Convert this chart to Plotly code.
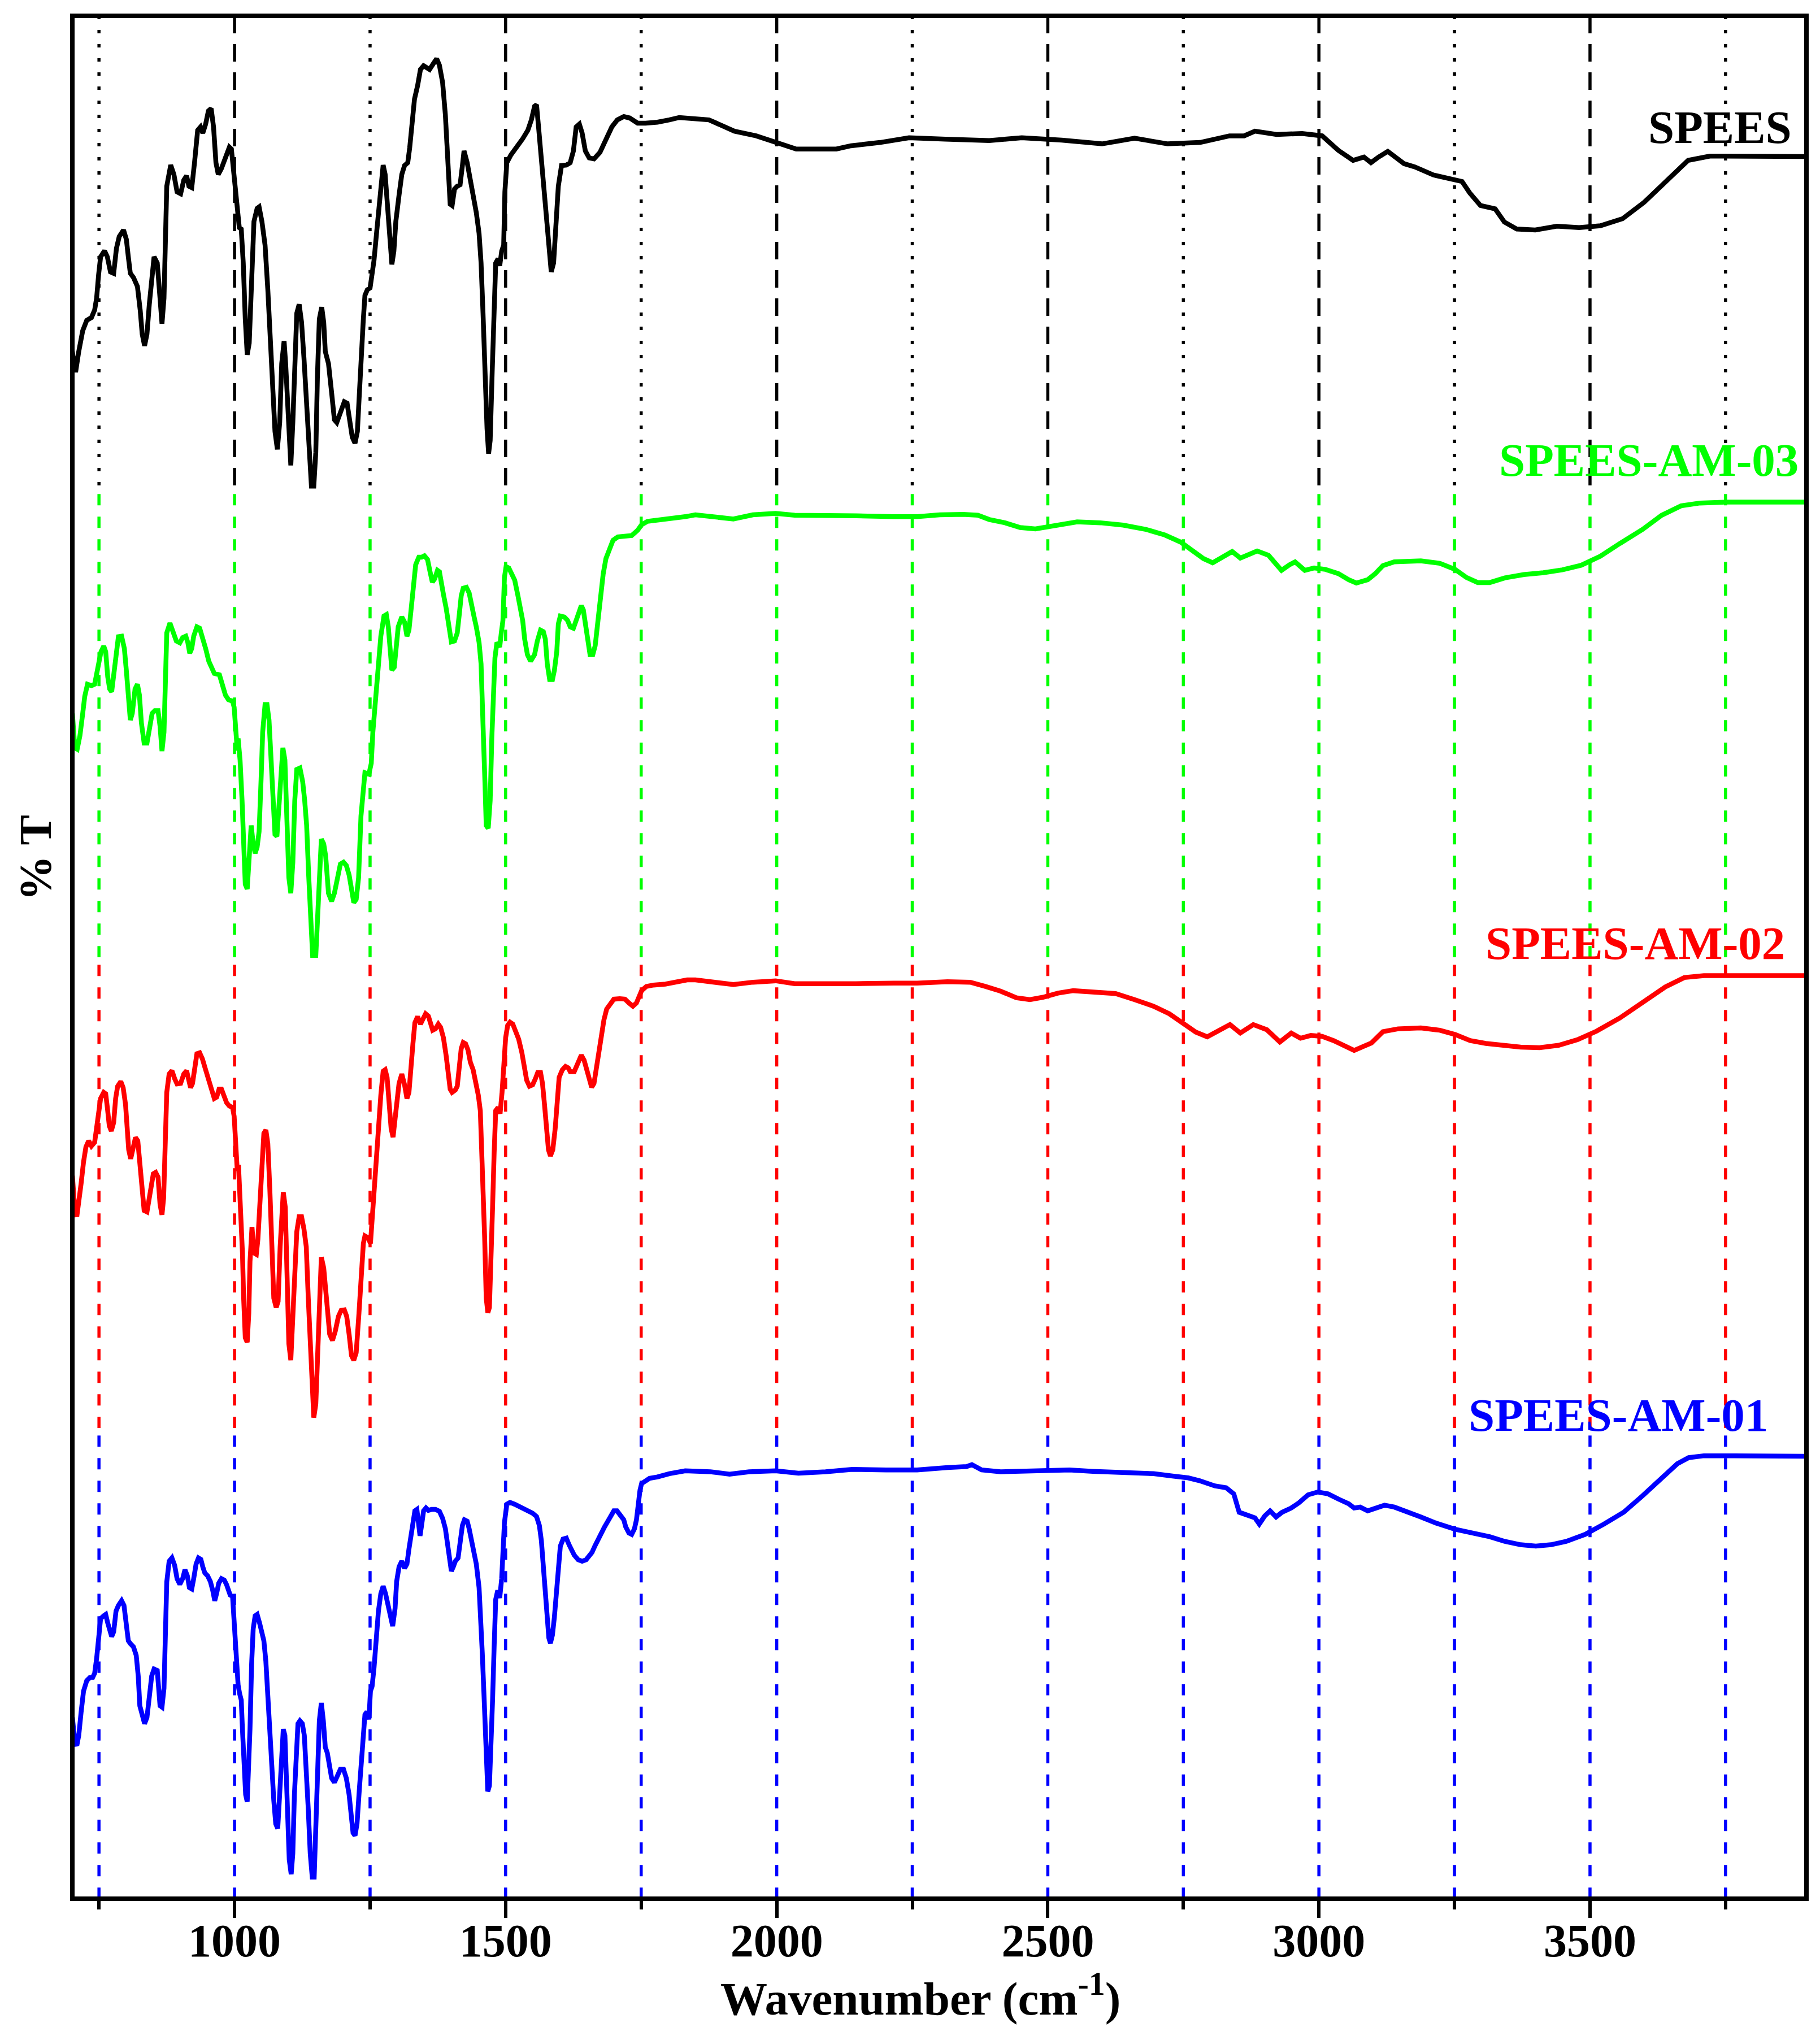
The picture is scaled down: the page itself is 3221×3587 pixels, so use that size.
import plotly.graph_objects as go

# ---------------- data ----------------
# wavenumber (cm-1) and %T (each spectrum on its own 0-100 scale, stacked with offsets)
wn_spees = [700, 706.9, 712.7, 720, 727.4, 736.1, 742, 745.6, 749.3, 753, 760.2, 765.4, 771.2, 777.1, 782.2, 787.3, 795.3, 800.5, 804.1, 807.8,
            813.6, 820.9, 826, 829.7, 834.1, 838.5, 842.8, 848, 851.6, 857.5, 862.6, 866.2, 869.9, 872.1, 875, 882.3, 888.2, 894, 900.6, 906.4,
            911.6, 915.9, 921.1, 926.2, 932, 937.2, 941.5, 946.7, 951.8, 956.9, 961.3, 965.7, 970, 975.9, 983.2, 990.5, 994.2, 997.8, 1001.5, 1005.1,
            1008.8, 1012.4, 1016.1, 1019.8, 1023.4, 1027.1, 1030.7, 1035.8, 1041.7, 1045.3, 1050.5, 1056.3, 1061.4, 1066.5, 1069.5, 1074.6, 1079, 1083.3, 1087, 1091.4,
            1094.3, 1098.7, 1103.8, 1107.5, 1111.1, 1114.8, 1119.2, 1123.6, 1128, 1133.1, 1138.2, 1141.8, 1146.2, 1149.9, 1152.8, 1156.4, 1160.8, 1164.5, 1167.4, 1173.3,
            1179.1, 1184.2, 1188.6, 1195.2, 1202.5, 1207.6, 1212, 1217.1, 1222.2, 1226.6, 1230.3, 1233.9, 1237.6, 1240.5, 1244.9, 1250, 1253.7, 1257.3, 1262.4, 1268.3,
            1274.1, 1277.8, 1281.4, 1286.6, 1290.2, 1293.9, 1297.5, 1303.4, 1308.5, 1313.6, 1319.5, 1323.1, 1326.8, 1331.9, 1337.7, 1342.9, 1348.7, 1353.8, 1359.7, 1367,
            1372.8, 1377.9, 1383.8, 1388.9, 1394, 1397.7, 1401.3, 1405.7, 1410.8, 1416, 1420.3, 1423.3, 1429.1, 1434.2, 1440.1, 1445.9, 1451, 1454.7, 1458.3, 1462,
            1465.7, 1468.6, 1471.5, 1475.2, 1478.8, 1481.7, 1486.1, 1489.1, 1492.7, 1496.4, 1498.6, 1502.2, 1509.5, 1520.5, 1531.5, 1541, 1547.5, 1553.4, 1557, 1560.7,
            1566.5, 1571.6, 1576.8, 1581.2, 1584.1, 1588.5, 1593.6, 1597.2, 1603.1, 1611.9, 1619.1, 1625, 1630.1, 1636, 1641.1, 1647, 1654.2, 1663, 1674, 1684.9,
            1695.9, 1706, 1718, 1728.8, 1743.4, 1758, 1780, 1801.9, 1820.2,
            1875, 1895, 1922, 1962, 2000, 2036, 2110, 2137, 2191, 2244, 2311, 2392, 2452, 2526, 2600, 2660, 2721, 2781, 2835, 2862,
            2882, 2922, 2969, 3006, 3036, 3063, 3083, 3096, 3110, 3127, 3157, 3177, 3211, 3244, 3264, 3278, 3298, 3325, 3342, 3365,
            3399, 3439, 3480, 3519, 3560, 3600, 3640, 3681, 3721, 3788, 3900]
t_spees = [29.3, 24.3, 28.7, 33.1, 35.3, 35.9, 37.5, 40.0, 45.0, 48.8, 50.1, 48.8, 45.6, 45.3, 50.6, 53.1, 54.5, 52.5, 48.8, 45.3,
           44.4, 42.5, 37.5, 32.4, 29.9, 32.4, 38.7, 45.0, 48.8, 47.5, 38.7, 34.6, 40.0, 54.4, 63.8, 68.3, 66.3, 62.6, 62.2, 65.1,
           66.0, 63.8, 63.5, 68.8, 75.7, 76.4, 75.1, 77.0, 79.8, 80.3, 76.4, 68.8, 66.3, 67.6, 70.1, 72.1, 71.7, 66.9, 62.6, 57.5,
           55.0, 54.7, 47.5, 35.6, 28.0, 30.5, 43.7, 56.3, 59.1, 59.4, 56.3, 51.3, 41.8, 29.3, 19.9, 11.7, 7.9, 13.6, 26.1, 30.9,
           26.1, 13.6, 4.5, 13.6, 29.3, 36.8, 38.7, 34.9, 27.4, 16.7, 6.7, 0.1, 0.1, 7.3, 23.0, 35.6, 38.1, 34.9, 28.7, 26.1,
           19.9, 14.2, 13.6, 16.1, 18.0, 17.7, 14.2, 10.5, 9.2, 11.7, 19.9, 29.3, 35.6, 40.6, 41.8, 42.2, 45.0, 48.1, 54.4, 62.6,
           68.3, 66.3, 60.0, 51.3, 47.2, 50.0, 56.3, 61.9, 66.3, 68.2, 68.8, 72.0, 77.0, 82.3, 85.2, 88.6, 89.4, 88.9, 88.6, 89.9,
           90.9, 89.5, 85.8, 78.9, 66.9, 60.0, 59.7, 63.2, 63.8, 64.1, 68.2, 71.3, 68.8, 65.7, 62.6, 58.2, 53.8, 47.5, 36.8, 23.0,
           12.3, 7.0, 9.8, 24.3, 39.9, 47.5, 48.4, 46.9, 50.0, 51.3, 62.6, 68.8, 70.4, 72.0, 73.9, 75.7, 77.9, 80.8, 81.1, 76.4,
           68.8, 61.3, 54.4, 47.5, 45.6, 47.5, 57.5, 63.8, 68.2, 68.3, 68.8, 71.3, 76.4, 77.0, 75.1, 71.3, 69.8, 69.6, 71.0, 73.5,
           76.4, 77.9, 78.6, 78.3, 77.2, 77.2, 77.4, 77.9, 78.4,
           77.9, 76.9, 75.5, 74.5, 73.1, 71.7, 71.7, 72.4, 73.1, 74.1, 73.8, 73.5, 74.1, 73.6, 72.8, 74.0, 72.8, 73.1, 74.5, 74.5,
           75.5, 74.8, 75.0, 74.5, 71.4, 69.3, 70.0, 68.8, 70.0, 71.2, 68.6, 67.9, 66.2, 65.2, 64.8, 62.4, 59.7, 59.0, 56.2, 54.7,
           54.5, 55.3, 55.0, 55.4, 56.9, 60.4, 64.8, 69.3, 70.2, 70.2, 70.1]

wn_am03 = [701, 705.4, 709.8, 714.9, 720, 723.7, 728.8, 736.1, 742, 746.4, 749.3, 753.7, 758.8, 762.4, 766.1, 769.7, 773.4, 777.1, 781.4, 785.8,
           791.7, 796.8, 800.4, 804.1, 807.8, 811.4, 816.5, 820.9, 824.6, 828.2, 833.3, 838.5, 842.8, 848, 853.1, 858.9, 862.6, 866.2, 869.9, 872.1,
           875, 880.9, 886.7, 892.6, 899.1, 904.3, 910.1, 913.8, 917.4, 921.1, 924.7, 930.6, 935.7, 940.8, 946.7, 952.5, 957.6, 962.7, 972.2, 977.4,
           983.2, 989, 996.4, 999.3, 1001.5, 1005.1, 1006.6, 1010.2, 1013.9, 1016.1, 1019.8, 1023.4, 1027.1, 1030.7, 1034.4, 1038, 1041.7, 1045.3, 1049, 1051.9,
           1056.3, 1059.9, 1063.6, 1067.3, 1070.9, 1074.6, 1078.2, 1081.9, 1085.5, 1089.2, 1092.9, 1096.5, 1100.2, 1103.8, 1107.5, 1111.1, 1114.8, 1120.6, 1125.7, 1129.4,
           1133, 1136.7, 1140.4, 1144, 1149.9, 1153.5, 1157.2, 1160.1, 1164.5, 1168.1, 1173.3, 1179.1, 1184.2, 1189.3, 1195.2, 1201, 1206.2, 1211.3, 1215.7, 1220,
           1224.4, 1228.8, 1233.2, 1237.6, 1240.5, 1247.8, 1252.2, 1255.1, 1259.5, 1264.6, 1269.8, 1275.6, 1280, 1283.6, 1287.3, 1290.2, 1294.6, 1297.5, 1301.9, 1308.5,
           1313.6, 1318, 1321.7, 1325.3, 1329.7, 1334.1, 1339.9, 1345, 1350.2, 1356, 1360.4, 1364.8, 1369.2, 1374.3, 1377.9, 1382.3, 1385.3, 1390.4, 1394, 1397,
           1399.9, 1405.7, 1410.8, 1414.5, 1418.1, 1421.8, 1427.6, 1432.7, 1436.4, 1441.5, 1445.9, 1451, 1454.7, 1456.9, 1459.1, 1462, 1464.2, 1467.9, 1471.5, 1474.5,
           1477.4, 1480.3, 1484, 1489.1, 1492, 1495, 1497.8, 1500.8, 1505.9, 1511, 1516.8, 1522.7, 1527.8, 1531.5, 1535.1, 1540.2, 1546.1, 1553.4, 1558.5, 1564.4,
           1569.5, 1573.2, 1576.8, 1581.2, 1586.4, 1590, 1594.3, 1597.2, 1600.9, 1608.2, 1614.1, 1619.2, 1625, 1630.1, 1635.3, 1639.6, 1643.3, 1646.9, 1652.1, 1655.7,
           1660.8, 1665.2, 1670.3, 1675.5, 1679.9, 1685, 1690.8, 1698.1, 1706.9, 1721.5, 1732.5, 1743.4, 1750.8, 1761.7, 1780, 1801.9, 1831.2,
           1850, 1878, 1920, 1956, 1998, 2033, 2090, 2146, 2216, 2259, 2301, 2344, 2371, 2392, 2421, 2449, 2477, 2498, 2526, 2554,
           2597, 2639, 2681, 2716, 2745, 2766, 2787, 2804, 2822, 2840, 2855, 2872, 2886, 2907, 2918, 2931, 2946, 2956, 2974, 2991,
           3012, 3036, 3055, 3069, 3090, 3104, 3118, 3139, 3188, 3223, 3251, 3272, 3293, 3315, 3343, 3378, 3414, 3449, 3484, 3519,
           3555, 3597, 3632, 3668, 3703, 3752, 3900]
t_am03 = [51.8, 44.5, 44.2, 47.1, 51.8, 55.4, 58.0, 57.7, 58.0, 60.6, 62.3, 64.9, 66.1, 64.9, 59.6, 57.0, 56.4, 59.6, 64.9, 68.1,
          68.2, 65.6, 61.0, 53.7, 50.4, 51.8, 57.0, 58.0, 55.7, 49.8, 45.5, 45.5, 49.1, 51.8, 52.4, 52.4, 49.1, 43.8, 47.8, 61.0,
          68.9, 71.0, 69.2, 67.2, 66.8, 67.9, 68.2, 66.9, 64.6, 65.6, 68.2, 70.2, 69.9, 68.2, 65.6, 62.9, 61.3, 60.3, 60.0, 57.7,
          55.7, 54.7, 54.4, 53.1, 49.1, 43.9, 46.5, 41.9, 33.3, 26.7, 15.5, 14.5, 20.1, 28.0, 24.1, 22.1, 23.4, 26.7, 37.9, 47.8,
          53.7, 53.7, 50.4, 41.2, 31.3, 26.1, 25.7, 31.3, 39.9, 44.5, 41.9, 30.0, 16.9, 13.6, 20.1, 33.3, 39.9, 40.2, 37.3, 33.3,
          28.0, 17.5, 7.0, 0.4, 0.4, 10.3, 21.5, 25.1, 24.1, 21.5, 13.6, 11.9, 13.6, 16.9, 19.8, 20.2, 19.5, 17.5, 13.6, 11.6,
          12.3, 16.9, 30.0, 37.9, 39.2, 38.9, 41.2, 47.8, 54.4, 61.0, 68.2, 72.5, 72.8, 70.2, 64.3, 61.0, 61.6, 66.2, 70.2, 72.3,
          71.2, 68.2, 69.5, 73.5, 79.4, 83.4, 85.0, 85.0, 85.3, 84.5, 82.0, 79.7, 80.4, 82.2, 81.9, 79.7, 77.1, 74.1, 71.5, 68.2,
          67.0, 67.2, 68.9, 72.8, 76.8, 78.4, 78.6, 77.4, 74.8, 72.5, 70.2, 66.9, 62.3, 56.4, 46.5, 36.6, 28.0, 27.4, 33.3, 46.5,
          56.4, 63.6, 66.9, 65.9, 68.9, 71.5, 80.7, 83.0, 82.7, 81.7, 80.1, 76.8, 73.5, 71.5, 67.6, 64.3, 62.9, 64.3, 67.2, 69.5,
          69.2, 67.6, 62.3, 59.0, 59.0, 61.0, 64.9, 70.8, 72.5, 72.3, 71.6, 70.2, 69.9, 71.5, 73.8, 74.7, 73.8, 70.8, 65.6, 64.3,
          64.3, 66.2, 71.5, 77.4, 81.4, 84.7, 86.7, 88.6, 89.3, 89.6, 89.6, 90.7, 91.9, 92.6, 92.8, 93.1, 93.6,
          94.0, 93.6, 93.1, 94.0, 94.3, 93.9, 93.9, 93.8, 93.6, 93.6, 94.0, 94.1, 93.9, 93.0, 92.3, 91.3, 91.0, 91.4, 92.0, 92.5,
          92.3, 91.8, 90.9, 89.7, 88.2, 86.4, 84.7, 83.8, 84.9, 86.2, 84.8, 85.5, 86.3, 85.4, 83.9, 82.2, 83.4, 84.0, 82.2, 82.7,
          82.4, 81.5, 80.2, 79.5, 80.2, 81.5, 83.2, 84.0, 84.2, 83.7, 82.4, 80.7, 79.6, 79.6, 80.6, 81.3, 81.7, 82.3, 83.3, 85.2,
          87.9, 90.9, 93.9, 95.9, 96.5, 96.7, 96.7]

wn_am02 = [701, 705.4, 709.1, 712.7, 717.1, 721.5, 725.9, 731, 736.1, 742, 745.6, 749.3, 753, 758.8, 762.4, 765.4, 769, 772.7, 777.1, 780.7,
           784.4, 790.2, 794.6, 799, 801.9, 804.8, 808.5, 812.9, 817.3, 821.6, 824.6, 828.2, 833.3, 838.5, 842.1, 845.8, 850.2, 854.5, 858.9, 862.6,
           866.2, 869.2, 872.1, 875, 879.4, 884.5, 889.6, 894, 900.6, 906.4, 911.6, 915.2, 918.9, 922.5, 926.2, 930.6, 935.7, 940.8, 946.7, 952.5,
           957.6, 962.7, 967.1, 971.5, 975.9, 981, 985.4, 990.5, 996.4, 999.3, 1001.5, 1003.7, 1005.1, 1007.3, 1010.2, 1012.4, 1014.6, 1016.8, 1019.8, 1023.4,
           1026.3, 1028.5, 1032.2, 1035.8, 1040.2, 1043.1, 1046.8, 1050.5, 1054.1, 1057.8, 1061.4, 1065.1, 1068.7, 1072.4, 1076.8, 1080.4, 1084.1, 1087, 1089.9, 1093.6,
           1096.5, 1100.2, 1103.8, 1107.5, 1111.1, 1114.8, 1119.2, 1123.6, 1128, 1132.3, 1136, 1139.6, 1143.3, 1146.2, 1149.9, 1153.5, 1156.4, 1160.1, 1164.5, 1167.4,
           1171.1, 1175.5, 1180.6, 1185.7, 1191.6, 1196.7, 1202.5, 1206.9, 1211.3, 1215.7, 1220, 1224.4, 1229.5, 1233.2, 1237.6, 1240.5, 1246.4, 1250.7, 1253.7, 1257.3,
           1261, 1265.4, 1269.8, 1274.1, 1277.8, 1281.4, 1285.1, 1288.8, 1292.4, 1296.1, 1299, 1303.4, 1308.5, 1313.6, 1318, 1321.7, 1325.3, 1329, 1332.6, 1337.7,
           1342.9, 1347.2, 1352.4, 1357.5, 1361.9, 1365.5, 1370.6, 1375.8, 1380.1, 1385.3, 1390.4, 1394, 1397.7, 1401.3, 1407.2, 1410.8, 1414.5, 1418.1, 1421.8, 1426.2,
           1430.6, 1435, 1440.1, 1445.2, 1449.6, 1453.3, 1456.2, 1458.4, 1461.3, 1464.2, 1467.2, 1470.1, 1473, 1475.9, 1478.8, 1481.7, 1486.1, 1489.8, 1493.4, 1496.4,
           1500, 1503.7, 1508.1, 1513.2, 1518.3, 1524.1, 1530, 1535.1, 1538.8, 1543.9, 1549.7, 1554.9, 1559.2, 1564.4, 1568, 1571.7, 1575.3, 1579, 1582.6, 1587,
           1591.4, 1595.8, 1598.7, 1604.6, 1610.4, 1615.5, 1619.2, 1626.5, 1632.3, 1639.6, 1644.8, 1649.9, 1654.2, 1658.6, 1663, 1667.4, 1671.8, 1676.2, 1681.3, 1686.4,
           1692.3, 1699.6, 1710.5, 1720.1, 1727.4, 1734.7, 1741.3, 1745.6, 1750.8, 1759.5, 1772.7, 1794.6, 1816.5, 1834.8,
           1850, 1878, 1920, 1956, 1998, 2033, 2090, 2146, 2216, 2259, 2315, 2357, 2385, 2413, 2442, 2467, 2491, 2519, 2547, 2583,
           2625, 2660, 2695, 2724, 2749, 2773, 2794, 2811, 2836, 2855, 2879, 2904, 2928, 2949, 2966, 2985, 3006, 3027, 3048, 3065,
           3083, 3097, 3118, 3146, 3188, 3223, 3251, 3279, 3308, 3343, 3372, 3407, 3442, 3477, 3512, 3555, 3597, 3639, 3674, 3710,
           3766, 3900]
t_am02 = [53.6, 46.2, 44.9, 47.5, 52.0, 56.5, 59.7, 61.0, 59.9, 60.7, 64.2, 68.1, 70.0, 71.3, 71.0, 68.1, 64.2, 63.1, 64.9, 70.0,
          72.6, 73.6, 72.3, 68.7, 62.9, 59.1, 57.2, 59.7, 61.7, 61.0, 57.2, 51.4, 46.2, 45.9, 48.8, 52.0, 54.0, 54.3, 53.3, 47.5,
          45.3, 48.8, 64.9, 71.3, 75.2, 75.9, 74.2, 73.1, 73.2, 75.2, 75.9, 74.2, 72.3, 73.2, 77.1, 79.5, 79.7, 78.4, 76.1, 73.6,
          71.3, 70.0, 70.3, 72.0, 72.0, 70.3, 69.1, 68.4, 68.1, 66.2, 62.3, 57.2, 54.6, 55.9, 50.1, 43.7, 37.2, 27.6, 19.2, 18.2,
          24.4, 35.3, 42.7, 37.2, 36.9, 40.1, 48.2, 57.2, 62.6, 63.3, 60.4, 50.7, 38.5, 27.6, 25.6, 26.9, 38.5, 46.9, 50.1, 46.9,
          34.0, 17.9, 14.4, 24.4, 34.0, 41.7, 44.9, 44.9, 42.3, 38.5, 27.6, 17.9, 7.0, 2.2, 5.1, 17.9, 30.8, 36.3, 34.0, 30.8,
          24.4, 19.9, 18.6, 20.5, 23.7, 25.0, 25.1, 23.7, 19.9, 15.4, 14.4, 16.0, 24.4, 32.7, 39.2, 40.8, 40.4, 39.2, 44.3, 50.1,
          58.4, 66.2, 70.7, 75.8, 76.1, 74.5, 68.7, 63.6, 61.8, 64.9, 68.7, 73.2, 75.2, 72.9, 70.0, 71.3, 75.2, 81.6, 86.1, 87.4,
          85.8, 86.7, 88.0, 87.5, 85.5, 84.5, 84.8, 85.8, 85.1, 82.9, 79.0, 75.2, 72.0, 71.3, 71.8, 72.6, 77.1, 80.6, 81.9, 81.6,
          80.3, 77.7, 76.1, 73.6, 70.7, 67.4, 59.7, 50.1, 40.4, 27.6, 24.5, 25.6, 34.0, 46.9, 58.4, 67.4, 68.1, 66.8, 71.3, 77.1,
          82.9, 85.5, 86.2, 85.8, 84.5, 82.6, 79.7, 76.5, 73.9, 72.6, 72.9, 74.2, 75.5, 75.5, 73.2, 68.7, 63.6, 59.1, 57.8, 59.1,
          63.6, 71.3, 74.5, 76.1, 76.8, 76.5, 75.7, 75.7, 77.4, 79.2, 78.1, 75.8, 73.6, 72.4, 73.2, 76.5, 79.7, 83.5, 86.7, 89.0,
          90.1, 91.1, 91.2, 91.1, 90.3, 89.6, 90.3, 91.6, 92.9, 93.8, 94.1, 94.3, 94.8, 95.2,
          95.2, 94.9, 94.2, 94.7, 95.0, 94.4, 94.3, 94.4, 94.5, 94.5, 94.8, 94.7, 93.8, 92.8, 91.4, 91.0, 91.5, 92.4, 92.9, 92.7,
          92.3, 91.0, 89.6, 88.0, 85.9, 84.1, 83.1, 84.1, 85.7, 83.9, 85.7, 84.6, 82.0, 83.9, 82.8, 83.4, 83.2, 82.3, 81.1, 80.2,
          81.1, 81.8, 84.2, 84.8, 85.0, 84.5, 83.6, 82.3, 81.7, 81.3, 80.9, 80.8, 81.3, 82.5, 84.3, 87.1, 90.5, 93.7, 95.7, 96.1,
          96.1, 96.1]

wn_am01 = [701, 705.4, 709.1, 712.7, 717.1, 721.5, 727.4, 733.2, 738.3, 742, 745.6, 749.3, 753, 758.8, 762.4, 766.1, 769.7, 773.4, 777.1, 781.4,
           785.8, 791.7, 796.1, 800.5, 804.1, 807.8, 813.6, 818.7, 822.4, 825.3, 829.7, 834.1, 838.5, 842.8, 847.2, 851.6, 857.5, 862.6, 866.2, 869.9,
           872.1, 875, 879.4, 884.5, 889.6, 894, 899.1, 904.3, 908.6, 913, 916.7, 921.1, 924.7, 929.1, 933.5, 937.9, 941.5, 945.2, 950.3, 955.4,
           959.8, 963.5, 967.1, 970.8, 975.9, 981, 985.4, 989, 992, 996.4, 998.6, 1001.5, 1003.7, 1006.6, 1009.5, 1012.4, 1014.6, 1017.6, 1020.5, 1023.4,
           1026.3, 1028.5, 1031.5, 1034.4, 1038, 1041.7, 1046.1, 1050.5, 1054.1, 1057.8, 1061.4, 1065.1, 1068.7, 1072.4, 1076, 1079.7, 1083.3, 1087, 1089.9, 1092.9,
           1095, 1097.9, 1100.9, 1104.5, 1107.5, 1110.4, 1113.3, 1117, 1120.6, 1125, 1128.7, 1132.3, 1136, 1139.6, 1143.3, 1146.9, 1149.9, 1152.8, 1156.4, 1160.1,
           1163.8, 1167.4, 1171.1, 1174.7, 1179.1, 1184.2, 1189.3, 1195.2, 1201, 1206.2, 1211.3, 1214.9, 1218.6, 1222.2, 1225.9, 1230.3, 1233.9, 1237.6, 1240.5, 1244.2,
           1247.8, 1250.7, 1253.7, 1257.3, 1261, 1265.4, 1269.8, 1274.1, 1278.5, 1282.9, 1287.3, 1291.7, 1296.1, 1299, 1303.4, 1308.5, 1313.6, 1318, 1321.7, 1325.3,
           1329, 1332.6, 1336.3, 1339.2, 1342.1, 1345, 1348.7, 1353.1, 1357.5, 1363.3, 1370.6, 1377.9, 1383.8, 1388.9, 1392.6, 1396.2, 1399.9, 1403.5, 1407.2, 1412.3,
           1416.6, 1420.3, 1424, 1429.1, 1432.7, 1436.4, 1441.5, 1445.9, 1451, 1454.7, 1456.9, 1459.8, 1462, 1464.2, 1467.1, 1470.1, 1473, 1475.9, 1478.8, 1481.7,
           1485.4, 1489.1, 1492.7, 1494.9, 1497.8, 1502.2, 1508.1, 1516.8, 1527.8, 1538.8, 1549.7, 1557, 1562.2, 1565.9, 1569.5, 1573.2, 1576.8, 1579.7, 1582.6, 1586.3,
           1589.9, 1593.6, 1597.2, 1600.9, 1606, 1611.9, 1617, 1621.4, 1626.5, 1633.8, 1641.1, 1648.4, 1654.2, 1659.4, 1664.5, 1670.3, 1676.2, 1682, 1688.6, 1694.4,
           1699.6, 1705.4, 1712.7, 1717.9, 1721.5, 1727.4, 1732.5, 1737.6, 1741.3, 1744.2, 1747.8, 1750.8, 1756.6, 1765.4, 1780, 1801.9, 1831.2,
           1850, 1878, 1913, 1949, 1998, 2040, 2090, 2139, 2202, 2259, 2315, 2350, 2360, 2378, 2413, 2456, 2498, 2540, 2583, 2639,
           2695, 2730, 2759, 2780, 2808, 2829, 2843, 2853, 2867, 2882, 2890, 2900, 2910, 2921, 2932, 2949, 2963, 2980, 2998, 3017,
           3036, 3055, 3065, 3076, 3090, 3104, 3121, 3139, 3160, 3188, 3216, 3251, 3287, 3315, 3343, 3372, 3400, 3428, 3456, 3491,
           3526, 3562, 3597, 3632, 3661, 3682, 3710, 3766, 3900]
t_am01 = [38.5, 33.4, 32.5, 34.7, 39.7, 44.1, 46.3, 47.0, 47.0, 47.9, 51.0, 56.7, 59.5, 60.1, 60.4, 58.6, 56.7, 55.7, 56.7, 61.1,
          62.3, 63.3, 62.3, 58.6, 54.8, 54.2, 53.5, 51.7, 47.3, 41.0, 38.5, 37.2, 38.5, 43.5, 47.3, 48.8, 48.5, 41.0, 40.7, 44.7,
          59.8, 67.3, 71.7, 72.4, 70.8, 68.0, 66.8, 68.0, 69.9, 68.6, 66.1, 65.8, 68.0, 71.1, 72.4, 72.1, 70.5, 69.2, 68.6, 67.4,
          65.5, 63.3, 64.9, 67.0, 68.0, 67.7, 66.7, 65.5, 64.5, 64.2, 59.8, 54.2, 49.8, 45.4, 43.5, 42.2, 36.0, 28.4, 22.1, 20.6,
          28.4, 36.0, 49.8, 57.3, 60.1, 60.4, 58.6, 56.7, 54.8, 50.4, 44.1, 37.2, 28.4, 20.9, 15.9, 14.9, 22.1, 31.6, 36.0, 34.7,
          28.4, 15.9, 8.3, 5.2, 9.6, 22.1, 31.6, 37.2, 37.8, 37.2, 34.7, 28.4, 19.0, 9.6, 4.6, 4.6, 12.7, 25.3, 37.8, 41.6,
          37.8, 32.2, 31.0, 28.4, 25.6, 24.7, 25.9, 27.5, 27.5, 25.6, 22.1, 17.1, 14.0, 13.4, 15.9, 23.4, 29.7, 35.3, 39.1, 39.7,
          38.1, 44.1, 45.1, 49.1, 56.0, 61.1, 64.8, 66.4, 64.8, 62.3, 59.2, 57.9, 61.7, 67.4, 70.5, 71.7, 70.2, 71.1, 74.3, 77.4,
          80.5, 82.4, 82.7, 80.5, 77.1, 79.3, 82.4, 83.0, 82.5, 82.7, 82.7, 82.3, 80.8, 78.6, 75.5, 71.7, 69.6, 70.5, 71.7, 72.4,
          76.1, 79.3, 80.5, 80.2, 78.6, 76.8, 74.3, 71.1, 66.1, 59.8, 52.3, 44.1, 37.2, 28.4, 22.8, 24.0, 31.6, 42.2, 53.5, 63.6,
          65.5, 63.9, 68.0, 73.6, 79.9, 83.8, 84.2, 83.8, 83.2, 82.4, 81.9, 81.2, 79.3, 76.1, 70.5, 64.8, 59.2, 55.4, 54.3, 56.0,
          59.8, 64.8, 71.1, 74.9, 76.4, 76.6, 75.2, 73.9, 73.0, 72.0, 71.7, 72.0, 72.9, 73.6, 74.9, 76.4, 77.7, 78.9, 80.2, 81.2,
          82.4, 82.4, 81.5, 80.5, 79.0, 77.7, 77.4, 78.6, 80.5, 83.7, 86.8, 88.2, 88.7, 89.3, 89.6, 90.3, 90.9,
          90.9, 90.7, 90.2, 90.7, 90.9, 90.4, 90.7, 91.2, 91.1, 91.1, 91.6, 91.8, 92.2, 91.1, 90.7, 90.8, 90.9, 91.1, 90.8, 90.6,
          90.3, 89.8, 89.4, 88.8, 87.7, 87.3, 86.0, 82.1, 81.5, 80.9, 79.6, 81.3, 82.4, 81.1, 82.1, 83.0, 84.1, 85.8, 86.4, 86.0,
          84.9, 83.9, 83.0, 83.2, 82.4, 83.0, 83.6, 83.2, 82.4, 81.1, 79.8, 78.5, 77.6, 76.9, 75.9, 75.2, 74.9, 75.2, 75.9, 77.4,
          79.6, 82.1, 85.6, 89.4, 92.4, 93.7, 94.1, 94.1, 94.0]

series_names = ["SPEES", "SPEES-AM-03", "SPEES-AM-02", "SPEES-AM-01"]
series_wn = [wn_spees, wn_am03, wn_am02, wn_am01]
series_t = [t_spees, t_am03, t_am02, t_am01]
tick_vals = [1000, 1500, 2000, 2500, 3000, 3500]
minor_vals = [750, 1250, 1750, 2250, 2750, 3250, 3750]
guide_wn = [750, 1000, 1250, 1500, 1750, 2000, 2250, 2500, 2750, 3000, 3250, 3500, 3750]

for n, w, t in zip(series_names, series_wn, series_t):
    assert len(w) == len(t), (n, len(w), len(t))

# ---------------- styling ----------------
colors = ["#000000", "#00FF00", "#FF0000", "#0000FF"]
offsets = [75, 50, 25, 0]          # vertical stacking offsets (axis units)
band_scale = 0.25                  # %T -> axis units
band_top = [100, 74.6, 49.6, 24.6]
label_pos = [(3874, 94.1), (3887, 76.4), (3862, 50.75), (3830, 25.7)]
FONT = "Liberation Serif, Times New Roman, serif"

fig = go.Figure()

# vertical guide lines (one segment per spectrum band, coloured like the spectrum)
shapes = []
for i, col in enumerate(colors):
    for g in guide_wn:
        if i == 0:
            dash = "31px,19px" if g % 500 == 0 else "6px,19px"
        else:
            dash = "20px,20px"
        shapes.append(dict(type="line", xref="x", yref="y", x0=g, x1=g,
                           y0=band_top[i], y1=offsets[i],
                           line=dict(color=col, width=5.5, dash=dash), layer="below"))

for n, w, t, col, off in zip(series_names, series_wn, series_t, colors, offsets):
    fig.add_trace(go.Scatter(x=w, y=[off + v * band_scale for v in t], mode="lines", name=n,
                             line=dict(color=col, width=8.5), showlegend=False))

annotations = []
for n, col, (lx, ly) in zip(series_names, colors, label_pos):
    annotations.append(dict(x=lx, y=ly, xref="x", yref="y", text=n, showarrow=False,
                            xanchor="right", yanchor="middle",
                            font=dict(family=FONT, size=83, color=col, weight="bold")))
annotations.append(dict(x=-0.0225, y=0.553, xref="paper", yref="paper", text="% T", textangle=-90,
                        showarrow=False, xanchor="center", yanchor="middle",
                        font=dict(family=FONT, size=80, color="#000000", weight="bold")))
annotations.append(dict(x=0.489, y=-0.036, xref="paper", yref="paper",
                        text="Wavenumber (cm<sup>-1</sup>)", showarrow=False,
                        xanchor="center", yanchor="top",
                        font=dict(family=FONT, size=83, color="#000000", weight="bold")))

fig.update_layout(
    width=3221, height=3587,
    margin=dict(l=124, r=36, t=24, b=239),
    paper_bgcolor="white", plot_bgcolor="white",
    shapes=shapes, annotations=annotations,
    xaxis=dict(range=[705, 3895], showgrid=False, zeroline=False,
               showline=True, linecolor="black", linewidth=8, mirror=True,
               ticks="outside", ticklen=30, tickwidth=6, tickcolor="black",
               tickvals=tick_vals, ticktext=[str(v) for v in tick_vals],
               ticklabelstandoff=-30,
               minor=dict(ticks="outside", ticklen=15, tickwidth=6, tickcolor="black",
                          tickvals=minor_vals),
               tickfont=dict(family=FONT, size=82, color="black", weight="bold")),
    yaxis=dict(range=[0.12, 99.88], showgrid=False, zeroline=False, showticklabels=False,
               showline=True, linecolor="black", linewidth=8, mirror=True, ticks=""),
)

fig.write_html("out.html")
